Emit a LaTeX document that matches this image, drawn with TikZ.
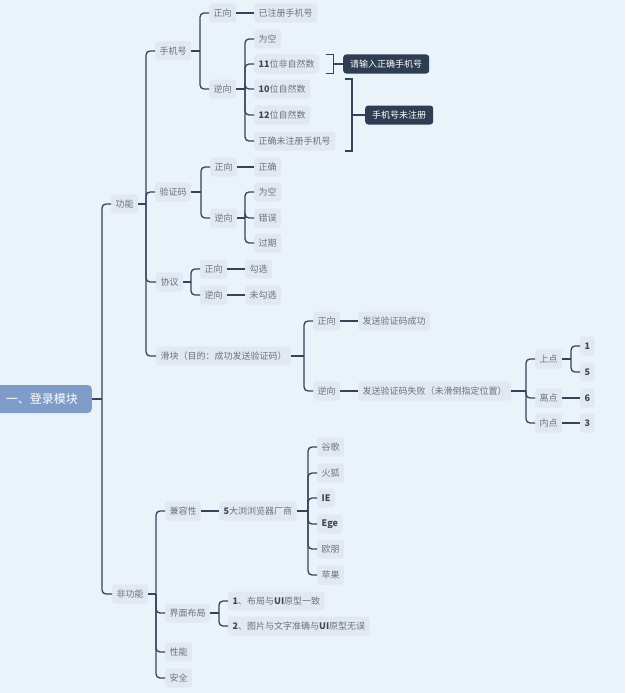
\documentclass[tikz,border=0pt]{standalone}
\usepackage{fontspec}
\setmainfont{Noto Sans CJK SC}
\usetikzlibrary{calc}
\definecolor{bgc}{HTML}{EAF2FA}
\definecolor{nodef}{HTML}{E1E8F1}
\definecolor{txtc}{HTML}{6B7380}
\definecolor{latc}{HTML}{3E4757}
\definecolor{linec}{HTML}{36445A}
\definecolor{darkc}{HTML}{2F3D52}
\definecolor{rootc}{HTML}{7E9CC7}
\newcommand\lt[1]{{\bfseries\color{latc}#1}}
\tikzset{
  leaf/.style={anchor=west, fill=nodef, text=txtc, rounded corners=3pt, inner xsep=4.5pt, inner ysep=0pt, minimum height=19pt, font=\fontsize{9}{11}\selectfont},
  darkbox/.style={anchor=west, fill=darkc, text=white, rounded corners=3pt, inner xsep=7pt, inner ysep=0pt, minimum height=19pt, font=\fontsize{9}{11}\selectfont},
  rootbox/.style={anchor=east, fill=rootc, text=white, rounded corners=4pt, minimum width=100pt, minimum height=28pt, font=\fontsize{12}{14}\selectfont},
  conn/.style={draw=linec, line width=1.3pt},
  rconn/.style={conn, rounded corners=4pt}
}
\newcommand\branch[2]{%
  \coordinate (t-#1) at ([xshift=-9pt]#2.west |- #1.east);
  \draw[conn] (#1.east) -- (t-#1);
}
\newcommand\tochild[2]{\draw[rconn] (t-#1) |- (#2.west);}
\begin{document}
\begin{tikzpicture}[x=1pt,y=-1pt]
\fill[bgc] (0,0) rectangle (625,693);
\useasboundingbox (0,0) rectangle (625,693);

\node[rootbox] (root) at (92,399) {一、登录模块};
\node[leaf] (gn) at (111,204) {功能};
\node[leaf] (fgn) at (112,594) {非功能};

\node[leaf] (sj) at (155,51) {手机号};
\node[leaf] (yzm) at (155,192) {验证码};
\node[leaf] (xy) at (156,282) {协议};
\node[leaf] (hk) at (156,356) {滑块（目的：成功发送验证码）};

\node[leaf] (sjz) at (209,13) {正向};
\node[leaf] (sjzc) at (254,13) {已注册手机号};
\node[leaf] (sjn) at (209,89) {逆向};
\node[leaf] (sjn1) at (254,39) {为空};
\node[leaf] (sjn2) at (254,64) {\lt{11}位非自然数};
\node[leaf] (sjn3) at (254,89) {\lt{10}位自然数};
\node[leaf] (sjn4) at (254,115) {\lt{12}位自然数};
\node[leaf] (sjn5) at (254,141) {正确未注册手机号};
\node[darkbox] (err1) at (343,64) {请输入正确手机号};
\node[darkbox] (err2) at (365,115) {手机号未注册};

\node[leaf] (yz) at (210,167) {正向};
\node[leaf] (yzc) at (254,167) {正确};
\node[leaf] (yn) at (210,218) {逆向};
\node[leaf] (yn1) at (254,192) {为空};
\node[leaf] (yn2) at (254,218) {错误};
\node[leaf] (yn3) at (254,243) {过期};

\node[leaf] (xz) at (200,269) {正向};
\node[leaf] (xzc) at (245,269) {勾选};
\node[leaf] (xn) at (200,295) {逆向};
\node[leaf] (xnc) at (245,295) {未勾选};

\node[leaf] (hz) at (313,321) {正向};
\node[leaf] (hzc) at (358,321) {发送验证码成功};
\node[leaf] (hn) at (313,391) {逆向};
\node[leaf] (hnc) at (358,391) {发送验证码失败（未滑倒指定位置）};
\node[leaf] (sd) at (535,359) {上点};
\node[leaf] (ld) at (535,398) {离点};
\node[leaf] (nd) at (535,423) {内点};
\node[leaf] (p1) at (580,346) {\lt{1}};
\node[leaf] (p5) at (580,372) {\lt{5}};
\node[leaf] (p6) at (580,398) {\lt{6}};
\node[leaf] (p3) at (580,423) {\lt{3}};

\node[leaf] (jr) at (165,511) {兼容性};
\node[leaf] (llq) at (219,511) {\lt{5}大浏浏览器厂商};
\node[leaf] (b1) at (317,447) {谷歌};
\node[leaf] (b2) at (317,473) {火狐};
\node[leaf] (b3) at (317,498) {\lt{IE}};
\node[leaf] (b4) at (317,524) {\lt{Ege}};
\node[leaf] (b5) at (317,549) {欧朋};
\node[leaf] (b6) at (317,575) {苹果};
\node[leaf] (jm) at (165,613) {界面布局};
\node[leaf] (jm1) at (228,601) {\lt{1}、布局与\lt{UI}原型一致};
\node[leaf] (jm2) at (228,626) {\lt{2}、图片与文字准确与\lt{UI}原型无误};
\node[leaf] (xnn) at (165,652) {性能};
\node[leaf] (aq) at (165,678) {安全};

% connectors
\branch{root}{gn} \tochild{root}{gn} \tochild{root}{fgn}
\branch{gn}{sj} \tochild{gn}{sj} \tochild{gn}{yzm} \tochild{gn}{xy} \tochild{gn}{hk}
\branch{sj}{sjz} \tochild{sj}{sjz} \tochild{sj}{sjn}
\draw[conn] (sjz.east) -- (sjzc.west);
\branch{sjn}{sjn1} \tochild{sjn}{sjn1} \tochild{sjn}{sjn2} \tochild{sjn}{sjn3} \tochild{sjn}{sjn4} \tochild{sjn}{sjn5}
\branch{yzm}{yz} \tochild{yzm}{yz} \tochild{yzm}{yn}
\draw[conn] (yz.east) -- (yzc.west);
\branch{yn}{yn1} \tochild{yn}{yn1} \tochild{yn}{yn2} \tochild{yn}{yn3}
\branch{xy}{xz} \tochild{xy}{xz} \tochild{xy}{xn}
\draw[conn] (xz.east) -- (xzc.west);
\draw[conn] (xn.east) -- (xnc.west);
\branch{hk}{hz} \tochild{hk}{hz} \tochild{hk}{hn}
\draw[conn] (hz.east) -- (hzc.west);
\draw[conn] (hn.east) -- (hnc.west);
\branch{hnc}{sd} \tochild{hnc}{sd} \tochild{hnc}{ld} \tochild{hnc}{nd}
\branch{sd}{p1} \tochild{sd}{p1} \tochild{sd}{p5}
\draw[conn] (ld.east) -- (p6.west);
\draw[conn] (nd.east) -- (p3.west);
\branch{fgn}{jr} \tochild{fgn}{jr} \tochild{fgn}{jm} \tochild{fgn}{xnn} \tochild{fgn}{aq}
\draw[conn] (jr.east) -- (llq.west);
\branch{llq}{b1} \tochild{llq}{b1} \tochild{llq}{b2} \tochild{llq}{b3} \tochild{llq}{b4} \tochild{llq}{b5} \tochild{llq}{b6}
\branch{jm}{jm1} \tochild{jm}{jm1} \tochild{jm}{jm2}

% brackets
\coordinate (k1a) at ([xshift=7pt]sjn2.north east);
\coordinate (k1b) at ([xshift=14pt]sjn2.north east);
\coordinate (k1c) at ([xshift=14pt]sjn2.south east);
\coordinate (k1d) at ([xshift=7pt]sjn2.south east);
\coordinate (k1m) at ([xshift=14pt]sjn2.east);
\draw[conn] (k1a) -- (k1b) -- (k1c) -- (k1d);
\draw[conn] (k1m) -- (err1.west);
\coordinate (k2a) at (345,79);
\coordinate (k2b) at (352,79);
\coordinate (k2c) at (352,151);
\coordinate (k2d) at (345,151);
\coordinate (k2m) at (352,115);
\draw[conn] (k2a) -- (k2b) -- (k2c) -- (k2d);
\draw[conn] (k2m) -- (err2.west);
\end{tikzpicture}
\end{document}
